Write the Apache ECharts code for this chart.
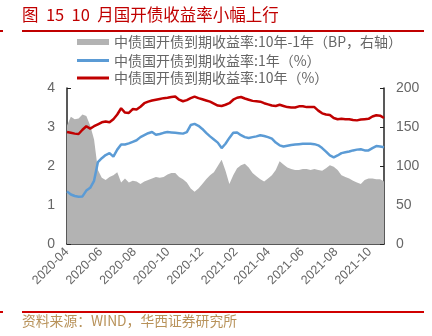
<!DOCTYPE html>
<html>
<head>
<meta charset="utf-8">
<script src="https://cdn.jsdelivr.net/npm/echarts@6/dist/echarts.min.js"></script>
<style>
  html, body { margin: 0; padding: 0; background: #fff; }
  #chart { width: 432px; height: 336px; }
</style>
</head>
<body>
<div id="chart"></div>
<script>
// Weekly observations, CDB (国开债) yields
var dates = [
  '2020-04-01','2020-04-08','2020-04-15','2020-04-22','2020-04-29',
  '2020-05-06','2020-05-13','2020-05-20','2020-05-27',
  '2020-06-03','2020-06-10','2020-06-17','2020-06-24',
  '2020-07-01','2020-07-08','2020-07-15','2020-07-22','2020-07-29',
  '2020-08-05','2020-08-12','2020-08-19','2020-08-26',
  '2020-09-02','2020-09-09','2020-09-16','2020-09-23','2020-09-30',
  '2020-10-07','2020-10-14','2020-10-21','2020-10-28',
  '2020-11-04','2020-11-11','2020-11-18','2020-11-25',
  '2020-12-02','2020-12-09','2020-12-16','2020-12-23','2020-12-30',
  '2021-01-06','2021-01-13','2021-01-20','2021-01-27',
  '2021-02-03','2021-02-10','2021-02-17','2021-02-24',
  '2021-03-03','2021-03-10','2021-03-17','2021-03-24','2021-03-31',
  '2021-04-07','2021-04-14','2021-04-21','2021-04-28',
  '2021-05-05','2021-05-12','2021-05-19','2021-05-26',
  '2021-06-02','2021-06-09','2021-06-16','2021-06-23','2021-06-30',
  '2021-07-07','2021-07-14','2021-07-21','2021-07-28',
  '2021-08-04','2021-08-11','2021-08-18','2021-08-25',
  '2021-09-01','2021-09-08','2021-09-15','2021-09-22','2021-09-29',
  '2021-10-06','2021-10-13','2021-10-20','2021-10-27'
];

// 1-year yield (%)
var yield1y = [
  1.35,1.27,1.23,1.21,1.22,1.37,1.44,1.62,2.10,2.20,
  2.28,2.33,2.24,2.42,2.55,2.55,2.58,2.62,2.66,2.74,
  2.79,2.84,2.87,2.80,2.82,2.85,2.87,2.86,2.85,2.84,
  2.83,2.87,3.05,3.08,3.03,2.95,2.85,2.76,2.68,2.60,
  2.46,2.57,2.72,2.85,2.86,2.79,2.74,2.72,2.74,2.76,
  2.79,2.77,2.74,2.70,2.60,2.53,2.50,2.52,2.54,2.55,
  2.56,2.57,2.57,2.57,2.56,2.53,2.46,2.37,2.27,2.22,
  2.27,2.33,2.35,2.37,2.40,2.42,2.43,2.40,2.40,2.46,
  2.51,2.50,2.48
];

// 10-year yield (%)
var yield10y = [
  2.87,2.85,2.83,2.82,2.93,3.02,2.96,3.02,3.07,3.12,
  3.14,3.12,3.20,3.32,3.48,3.37,3.36,3.46,3.45,3.52,
  3.61,3.65,3.68,3.70,3.72,3.74,3.75,3.77,3.78,3.70,
  3.66,3.69,3.74,3.78,3.74,3.71,3.68,3.65,3.60,3.55,
  3.54,3.57,3.61,3.70,3.75,3.77,3.73,3.70,3.67,3.66,
  3.65,3.61,3.58,3.55,3.54,3.57,3.54,3.51,3.50,3.50,
  3.53,3.53,3.51,3.51,3.51,3.42,3.35,3.32,3.31,3.23,
  3.20,3.21,3.20,3.20,3.18,3.17,3.19,3.20,3.21,3.27,
  3.30,3.29,3.23
];

// 10Y-1Y term spread (BP)
var spreadBP = [
  152,163,160,161,166,164,152,134,95,85,
  82,86,88,92,79,84,79,81,80,77,
  80,82,84,86,85,86,89,91,91,86,
  83,79,71,67,71,77,83,88,92,100,
  108,94,77,88,97,101,103,98,91,87,
  83,80,84,88,95,106,102,98,96,95,
  95,96,96,95,96,95,94,97,101,99,
  95,88,86,84,81,79,77,82,84,84,
  83,83,80
];

var tickMonths = ['2020-04','2020-06','2020-08','2020-10','2020-12',
                  '2021-02','2021-04','2021-06','2021-08','2021-10'];

var nameSpread = '中债国开债到期收益率:10年-1年（BP，右轴）';
var name1y = '中债国开债到期收益率:1年（%）';
var name10y = '中债国开债到期收益率:10年（%）';

// Dates are placed on a numeric axis (days since the first observation)
var DAY = 86400000;
var t0 = Date.UTC(2020, 3, 1);
var dayIndex = function (s) {
  var p = s.split('-');
  return Math.round((Date.UTC(+p[0], +p[1] - 1, p[2] ? +p[2] : 1) - t0) / DAY);
};
var tickValues = tickMonths.map(function (m) { return dayIndex(m); });
var tickLabelOf = {};
tickMonths.forEach(function (m, i) { tickLabelOf[tickValues[i]] = m; });
var pairs = function (vals) {
  return dates.map(function (d, i) { return [dayIndex(d), vals[i]]; });
};

var labelColor = '#666666';
var axisColor = '#222222';
var latin = 'Liberation Sans, Arial, sans-serif';
var cjk = '"Noto Sans CJK SC", sans-serif';

var legendText = { color: labelColor, fontSize: 14, fontFamily: cjk };
var makeLegend = function (name, top, h) {
  return {
    orient: 'vertical', left: 77, top: top, padding: 0,
    itemWidth: 32, itemHeight: h, itemGap: 0,
    textStyle: legendText,
    data: [{ name: name, icon: 'rect' }]
  };
};

var chart = echarts.init(document.getElementById('chart'), null, { renderer: 'canvas' });

chart.setOption({
  animation: false,
  backgroundColor: '#ffffff',
  graphic: [
    { type: 'text', left: 22, top: 6,
      style: { text: '图  15  10  月国开债收益率小幅上行', fill: '#c00000',
               font: '16.5px ' + cjk } },
    { type: 'rect', shape: { x: 22, y: 30, width: 402, height: 2 },
      style: { fill: '#c00000' } },
    { type: 'rect', shape: { x: 0, y: 30, width: 3, height: 2 },
      style: { fill: '#c00000' } },
    { type: 'rect', shape: { x: 22, y: 311, width: 402, height: 2 },
      style: { fill: '#d00000' } },
    { type: 'rect', shape: { x: 0, y: 311, width: 3, height: 2 },
      style: { fill: '#d00000' } },
    { type: 'text', left: 22, top: 314,
      style: { text: '资料来源：WIND，华西证券研究所', fill: '#b8925a',
               font: '13.8px ' + cjk } }
  ],
  legend: [
    makeLegend(nameSpread, 35, 6),
    makeLegend(name1y, 53.5, 3),
    makeLegend(name10y, 71, 3)
  ],
  grid: { left: 67, right: 48, top: 88, bottom: 92, containLabel: false },
  xAxis: {
    type: 'value',
    min: dayIndex(dates[0]),
    max: dayIndex(dates[dates.length - 1]),
    axisLine: { lineStyle: { color: axisColor, width: 1.5 } },
    axisTick: { inside: true, length: 4, customValues: tickValues,
                lineStyle: { color: axisColor } },
    axisLabel: {
      customValues: tickValues,
      rotate: 45, color: labelColor, fontSize: 12.5, fontFamily: latin, margin: 6,
      formatter: function (v) { return tickLabelOf[v] || ''; }
    },
    splitLine: { show: false }
  },
  yAxis: [
    {
      type: 'value', min: 0, max: 4, interval: 1,
      axisLine: { show: true, lineStyle: { color: axisColor, width: 1.5 } },
      axisTick: { show: true, inside: true, length: 4, lineStyle: { color: axisColor } },
      axisLabel: { color: labelColor, fontSize: 14, fontFamily: latin, margin: 12 },
      splitLine: { show: false }
    },
    {
      type: 'value', min: 0, max: 200, interval: 50,
      axisLine: { show: true, lineStyle: { color: axisColor, width: 1.5 } },
      axisTick: { show: true, inside: true, length: 4, lineStyle: { color: axisColor } },
      axisLabel: { color: labelColor, fontSize: 14, fontFamily: latin, margin: 12 },
      splitLine: { show: false }
    }
  ],
  series: [
    {
      name: nameSpread, type: 'line', yAxisIndex: 1,
      data: pairs(spreadBP),
      symbol: 'none', lineStyle: { width: 0 },
      itemStyle: { color: '#b3b3b3' },
      areaStyle: { color: '#b3b3b3', opacity: 1 },
      z: 1
    },
    {
      name: name1y, type: 'line', yAxisIndex: 0,
      data: pairs(yield1y),
      symbol: 'none', lineStyle: { width: 2.5, color: '#5b9bd5' },
      itemStyle: { color: '#5b9bd5' },
      z: 3
    },
    {
      name: name10y, type: 'line', yAxisIndex: 0,
      data: pairs(yield10y),
      symbol: 'none', lineStyle: { width: 2.5, color: '#c00000' },
      itemStyle: { color: '#c00000' },
      z: 4
    }
  ]
});
</script>
</body>
</html>
